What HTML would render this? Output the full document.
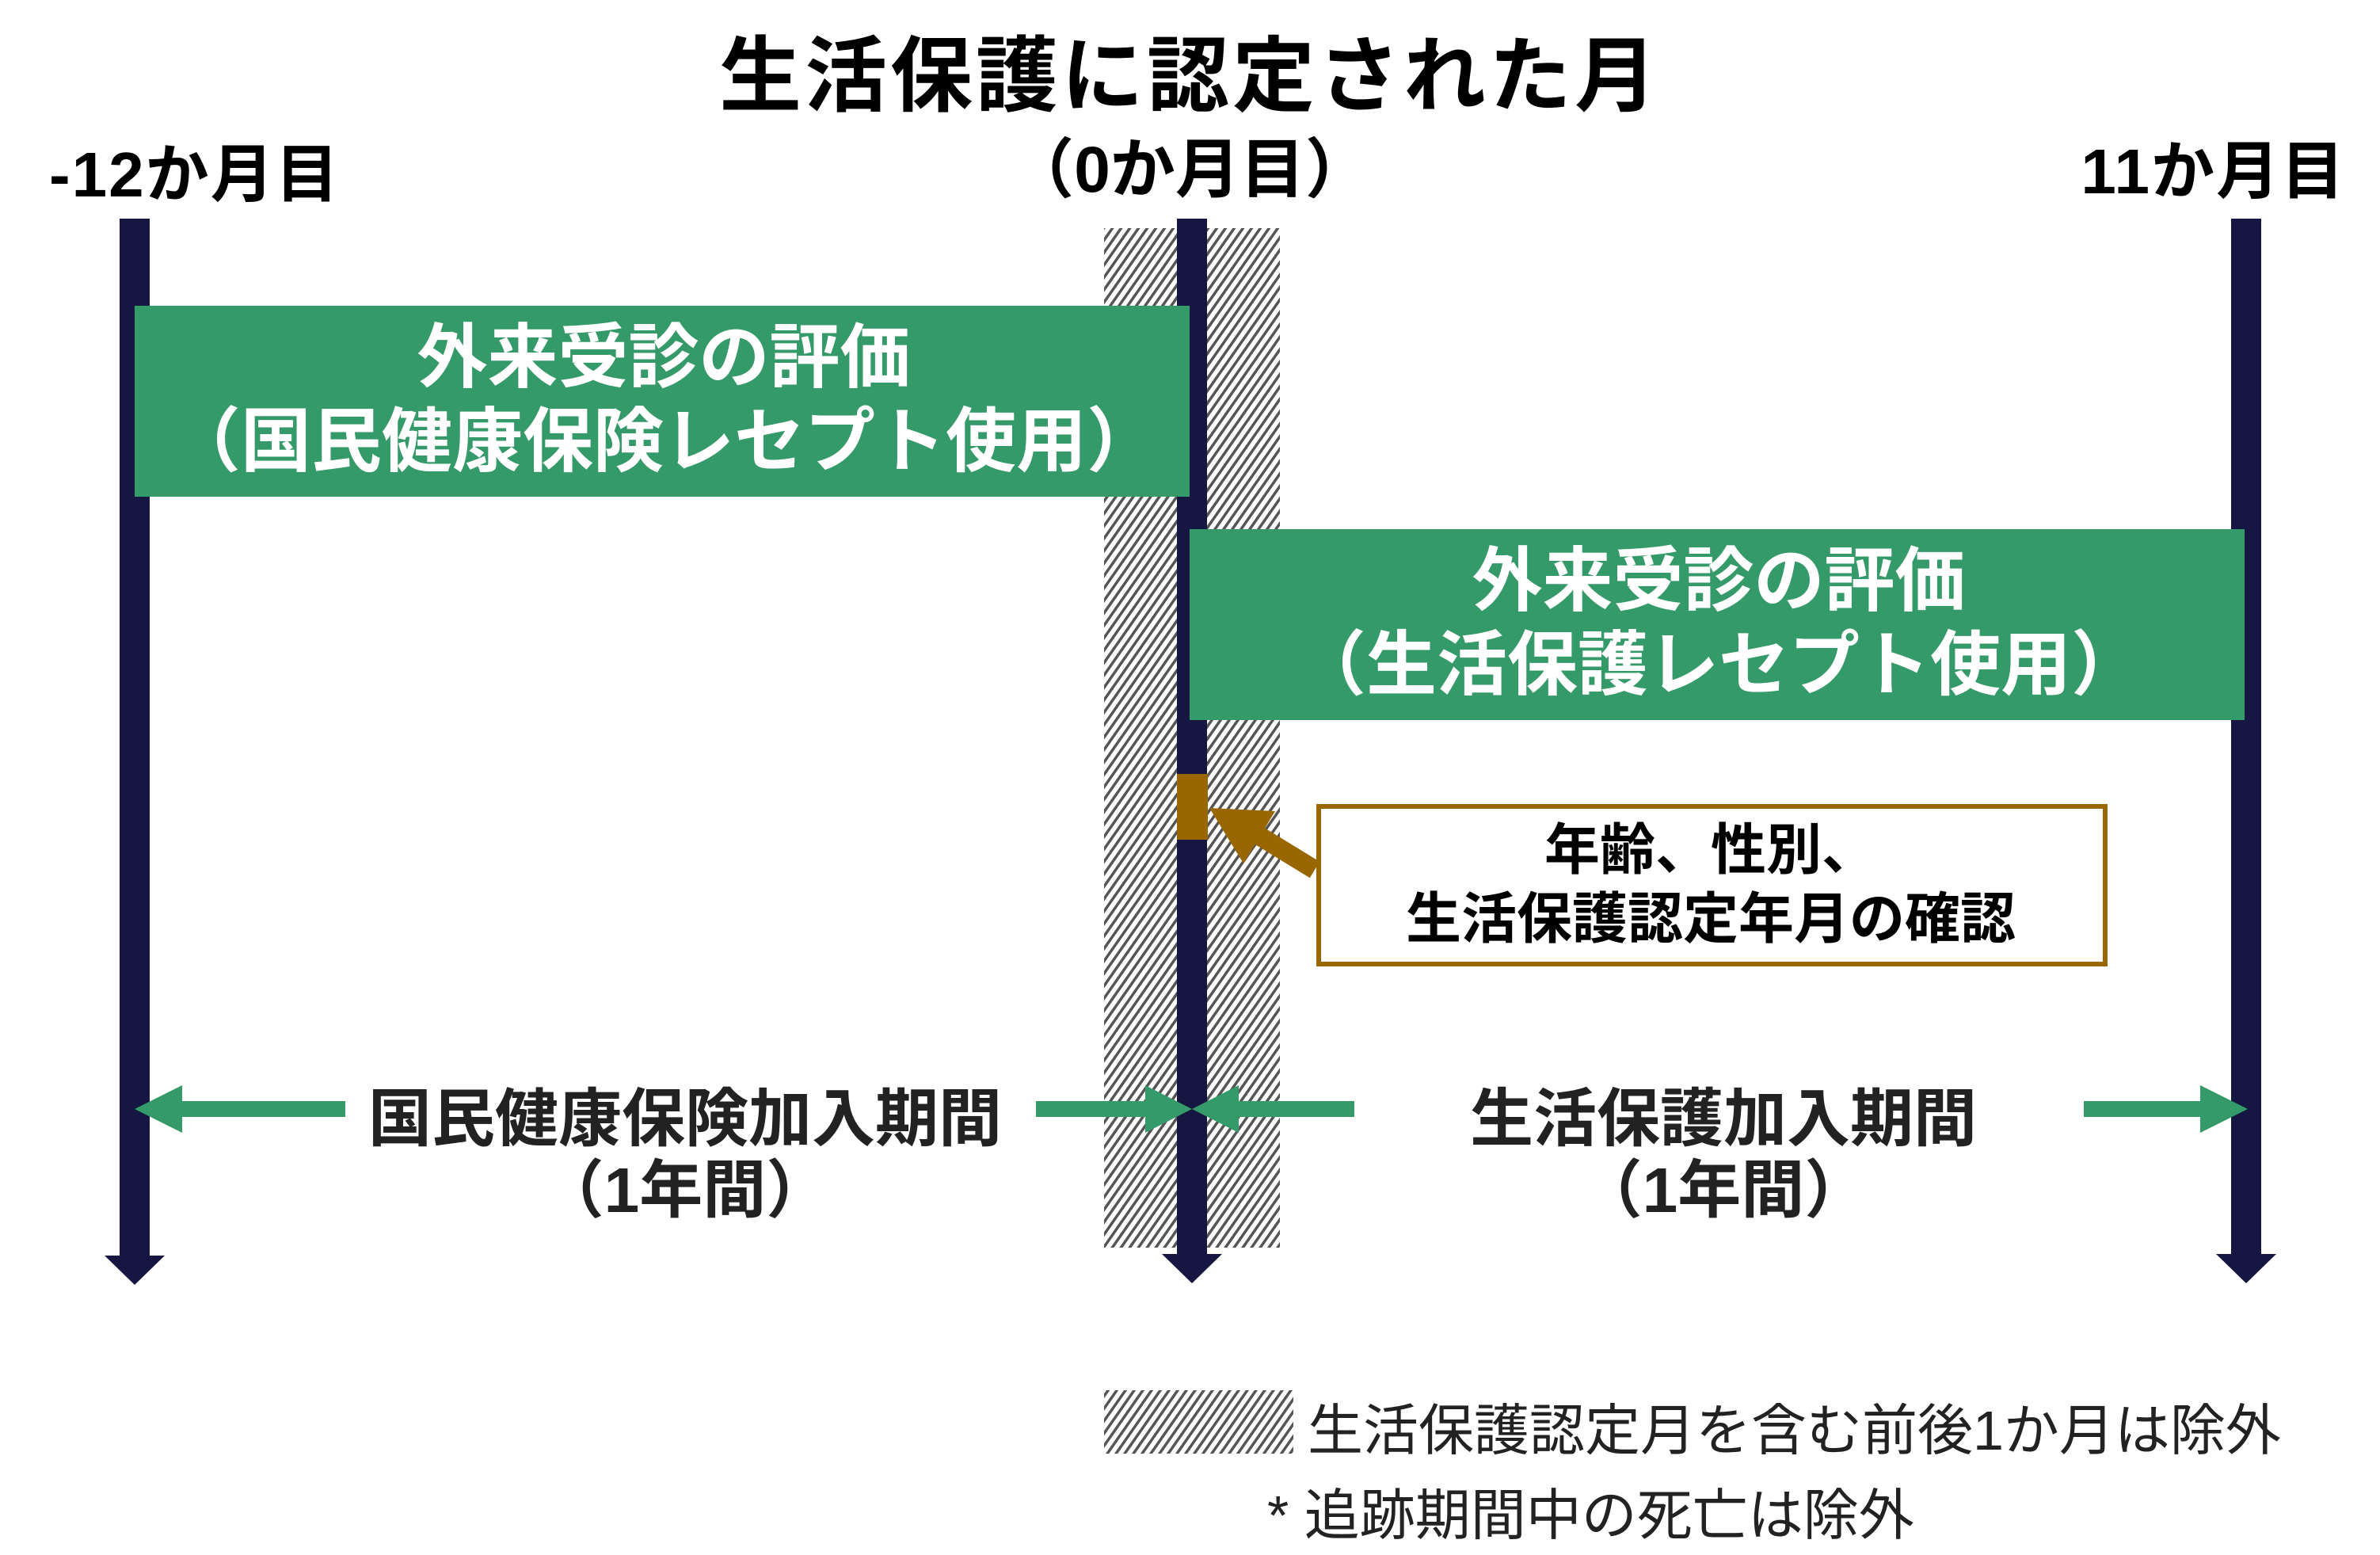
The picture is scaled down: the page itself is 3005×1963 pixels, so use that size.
<!DOCTYPE html>
<html><head><meta charset="utf-8"><style>
html,body{margin:0;padding:0;background:#fff}
svg{display:block}
text{font-family:"Liberation Sans","Noto Sans CJK JP",sans-serif}
</style></head><body>
<svg width="3005" height="1963" viewBox="0 0 3005 1963" xmlns="http://www.w3.org/2000/svg">
<defs>
<pattern id="h" width="9" height="9" patternUnits="userSpaceOnUse" patternTransform="rotate(35)">
<rect width="9" height="9" fill="#fff"/>
<rect width="3.5" height="9" fill="#555"/>
</pattern>
</defs>
<rect width="3005" height="1963" fill="#fff"/>
<rect x="1394" y="288" width="222" height="1287" fill="url(#h)"/>
<rect x="151" y="276" width="38" height="1312" fill="#161642"/>
<polygon points="132,1585 208,1585 170,1622" fill="#161642"/>
<rect x="1486" y="276" width="38" height="1312" fill="#161642"/>
<polygon points="1467,1583 1543,1583 1505,1620" fill="#161642"/>
<rect x="2817" y="276" width="38" height="1312" fill="#161642"/>
<polygon points="2798,1583 2874,1583 2836,1620" fill="#161642"/>
<text x="1502" y="132" font-size="104" font-weight="bold" text-anchor="middle" fill="#000" letter-spacing="4">生活保護に認定された月</text>
<text x="1502" y="242" font-size="82" font-weight="bold" text-anchor="middle" fill="#000">（0か月目）</text>
<text x="62" y="248" font-size="80" font-weight="bold" fill="#000" letter-spacing="2">-12か月目</text>
<text x="2962" y="244" font-size="80" font-weight="bold" text-anchor="end" fill="#000" letter-spacing="2">11か月目</text>
<rect x="170" y="386" width="1332" height="241" fill="#349a69"/>
<text x="838" y="482" font-size="89" font-weight="bold" text-anchor="middle" fill="#fff">外来受診の評価</text>
<text x="838" y="588" font-size="89" font-weight="bold" text-anchor="middle" fill="#fff">（国民健康保険レセプト使用）</text>
<rect x="1502" y="668" width="1332" height="241" fill="#349a69"/>
<text x="2170" y="764" font-size="89" font-weight="bold" text-anchor="middle" fill="#fff">外来受診の評価</text>
<text x="2170" y="870" font-size="89" font-weight="bold" text-anchor="middle" fill="#fff">（生活保護レセプト使用）</text>
<rect x="1486" y="977" width="39" height="83" fill="#996600"/>
<line x1="1660" y1="1098" x2="1575" y2="1046" stroke="#996600" stroke-width="24"/>
<polygon points="1527,1020 1610,1024 1570,1090" fill="#996600"/>
<rect x="1665" y="1018" width="993" height="199" fill="#fff" stroke="#996600" stroke-width="6"/>
<text x="2160" y="1097" font-size="70" font-weight="bold" text-anchor="middle" fill="#000">年齢、性別、</text>
<text x="2160" y="1184" font-size="70" font-weight="bold" text-anchor="middle" fill="#000">生活保護認定年月の確認</text>
<g fill="#349a69">
<rect x="228" y="1390" width="208" height="20"/>
<polygon points="170,1400 230,1370 230,1430"/>
<rect x="1308" y="1390" width="142" height="20"/>
<polygon points="1505,1400 1446,1370 1446,1430"/>
<rect x="1560" y="1390" width="150" height="20"/>
<polygon points="1505,1400 1564,1370 1564,1430"/>
<rect x="2631" y="1390" width="150" height="20"/>
<polygon points="2838,1400 2778,1370 2778,1430"/>
</g>
<text x="865" y="1440" font-size="80" font-weight="bold" text-anchor="middle" fill="#222">国民健康保険加入期間</text>
<text x="865" y="1530" font-size="80" font-weight="bold" text-anchor="middle" fill="#222">（1年間）</text>
<text x="2176" y="1440" font-size="80" font-weight="bold" text-anchor="middle" fill="#222">生活保護加入期間</text>
<text x="2176" y="1530" font-size="80" font-weight="bold" text-anchor="middle" fill="#222">（1年間）</text>
<rect x="1394" y="1755" width="239" height="80" fill="url(#h)"/>
<text x="1651" y="1830" font-size="70" fill="#222">生活保護認定月を含む前後1か月は除外</text>
<text x="1600" y="1937" font-size="70" fill="#222">* 追跡期間中の死亡は除外</text>
</svg>
</body></html>
